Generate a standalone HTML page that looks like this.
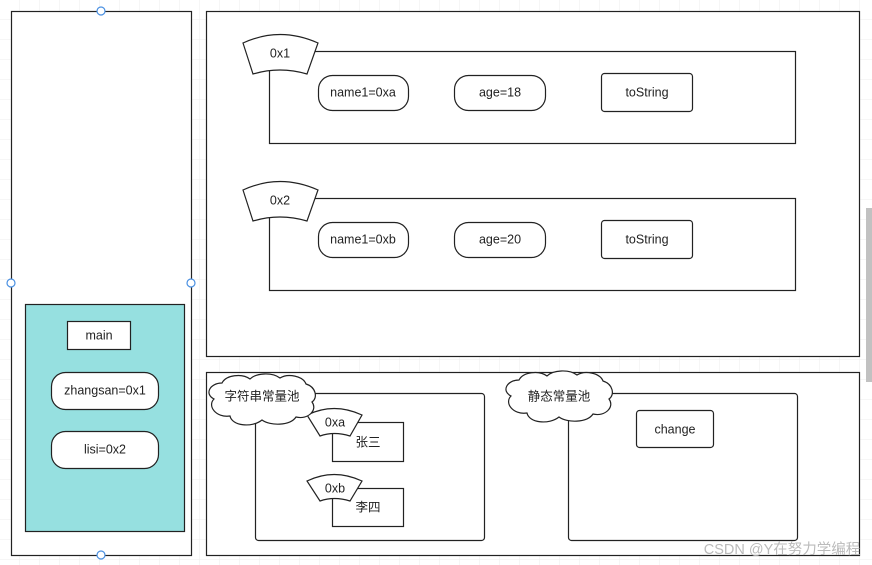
<!DOCTYPE html>
<html><head><meta charset="utf-8"><style>
html,body{margin:0;padding:0;background:#fff;}
svg{display:block;}
text{font-family:"Liberation Sans","Noto Sans CJK SC",sans-serif;font-size:12.5px;fill:#222;text-anchor:middle;dominant-baseline:middle;}
</style></head><body>
<svg width="872" height="565" viewBox="0 0 872 565" xmlns="http://www.w3.org/2000/svg">
<defs>
<pattern id="g" width="20" height="20" patternUnits="userSpaceOnUse"><path d="M20 0V20H0" fill="none" stroke="#eeeeee" stroke-width="1"/></pattern>
</defs>
<rect width="872" height="565" fill="url(#g)"/>
<g fill="#fff" stroke="#222" stroke-width="1.2">
<rect x="11.5" y="11.5" width="180" height="544"/>
<rect x="25.5" y="304.5" width="159" height="227" fill="#96e0e0"/>
<rect x="67.5" y="321.5" width="63" height="28"/>
<rect x="51.5" y="372.5" width="107" height="37" rx="14"/>
<rect x="51.5" y="431.5" width="107" height="37" rx="14"/>
<rect x="206.5" y="11.5" width="653" height="345"/>
<rect x="269.5" y="51.5" width="526" height="92"/>
<rect x="269.5" y="198.5" width="526" height="92"/>
<rect x="206.5" y="372.5" width="653" height="183"/>
<rect x="255.5" y="393.5" width="229" height="147" rx="3"/>
<rect x="568.5" y="393.5" width="229" height="147" rx="3"/>
<rect x="332.5" y="422.5" width="71" height="39"/>
<rect x="332.5" y="488.5" width="71" height="38"/>
<rect x="636.5" y="410.5" width="77" height="37" rx="3"/>
</g>
<g fill="#fff" stroke="#222" stroke-width="1.2">
<g id="r1">
<rect x="318.5" y="75.5" width="90" height="35" rx="14"/>
<rect x="454.5" y="75.5" width="91" height="35" rx="14"/>
<rect x="601.5" y="73.5" width="91" height="38" rx="3"/>
<path d="M243 43Q280 26 318 43L307 74Q280 66 253 74Z"/>
</g>
<use href="#r1" y="147"/>
<path d="M307 415Q334 402 362 415L350 436Q334 431 320 436Z"/>
<path d="M307 481Q334 468 362 481L350 501Q334 496 320 501Z"/>
<path d="M222 383C226 375 242 373 250 379C256 373 272 372 280 378C288 373 303 376 306 384C316 387 318 398 312 402C318 410 308 420 296 417C290 426 270 426 262 420C252 428 232 426 230 416C216 418 207 406 214 399C204 394 210 383 222 383Z"/>
<path d="M519 380C523 372 539 370 547 376C553 370 569 369 577 375C585 370 600 373 603 381C613 384 615 395 609 399C615 407 605 417 593 414C587 423 567 423 559 417C549 425 529 423 527 413C513 415 504 403 511 396C501 391 507 380 519 380Z"/>
</g>
<g fill="#fff" stroke="#4a90e2" stroke-width="1.2">
<circle cx="101" cy="11" r="4"/><circle cx="11" cy="283" r="4"/><circle cx="191" cy="283" r="4"/><circle cx="101" cy="555" r="4"/>
</g>
<rect x="866" y="208" width="6" height="174" fill="#c1c1c1"/>
<text x="99" y="336">main</text>
<text x="105" y="391">zhangsan=0x1</text>
<text x="105" y="450">lisi=0x2</text>
<text x="280" y="54">0x1</text>
<text x="363" y="93">name1=0xa</text>
<text x="500" y="93">age=18</text>
<text x="647" y="93">toString</text>
<text x="280" y="201">0x2</text>
<text x="363" y="240">name1=0xb</text>
<text x="500" y="240">age=20</text>
<text x="647" y="240">toString</text>
<text x="262" y="397">字符串常量池</text>
<text x="559" y="397">静态常量池</text>
<text x="335" y="423">0xa</text>
<text x="368" y="443">张三</text>
<text x="335" y="489">0xb</text>
<text x="368" y="508">李四</text>
<text x="675" y="430">change</text>
<text x="782" y="550" style="fill:#bbb;font-size:14.5px">CSDN @Y在努力学编程</text>
</svg>
</body></html>
